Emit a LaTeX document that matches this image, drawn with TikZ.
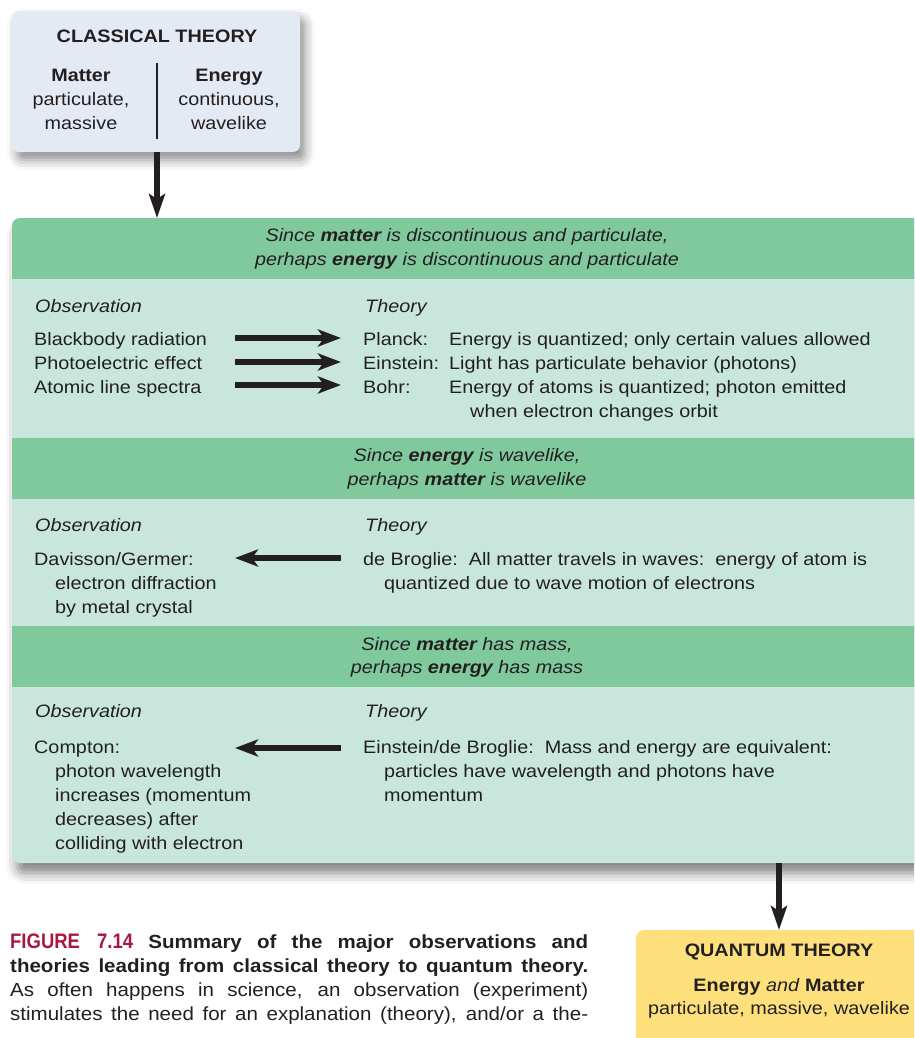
\documentclass[tikz,border=0pt]{standalone}
\usepackage{fontspec}
\setmainfont{Liberation Sans}[FakeStretch=1.1]
\newfontfamily\capfont{Liberation Sans}[FakeStretch=1.08]
\newfontfamily\condfont{Liberation Sans}[FakeStretch=0.88]
\usetikzlibrary{arrows.meta,shadows.blur}
\definecolor{ink}{HTML}{231F20}
\definecolor{topfill}{HTML}{E3EAF4}
\definecolor{hdrgreen}{HTML}{80C99C}
\definecolor{lightgreen}{HTML}{C9E6DC}
\definecolor{qyellow}{HTML}{FDE07C}
\definecolor{figred}{HTML}{A8173F}
\newcommand\fs{\fontsize{18}{24}\selectfont}
\begin{document}
\begin{tikzpicture}[x=1pt,y=-1pt,
  tx/.style={anchor=base west,inner sep=0pt,font=\fs,text=ink},
  tc/.style={anchor=base,inner sep=0pt,font=\fs,text=ink},
  hd/.style={anchor=base,inner sep=0pt,font=\fs\itshape,text=ink},
  captext/.style={anchor=base west,inner sep=0pt,font=\capfont\fontsize{19}{24}\selectfont,text=ink},
  fatarrow/.style={draw=ink,line width=6.5pt,-{Stealth[length=23pt,width=17pt,inset=6pt]}},
  downarrow/.style={draw=ink,line width=6.5pt,-{Stealth[length=24pt,width=16pt,inset=5pt]}}
]
\useasboundingbox (0,0) rectangle (914,1038);
\clip (0,0) rectangle (914,1038);

% ---------- classical theory box ----------
\fill[topfill,rounded corners=7pt,
  blur shadow={shadow xshift=5pt,shadow yshift=-8pt,shadow blur radius=10pt,shadow opacity=45}]
  (12,11) rectangle (300,152);
\node[tc,font=\fs\bfseries] (classical) at (157,43) {CLASSICAL THEORY};
\draw[ink,line width=2pt] (157,63) -- (157,139);
\node[tc,font=\fs\bfseries] (matter) at (81,82) {Matter};
\node[tc] (matter2) at (81,106) {particulate,};
\node[tc] (matter3) at (81,130) {massive};
\node[tc,font=\fs\bfseries] (energy) at (229,82) {Energy};
\node[tc] (energy2) at (229,106) {continuous,};
\node[tc] (energy3) at (229,130) {wavelike};
\coordinate (topout) at (157,152);

% ---------- main panel ----------
\fill[lightgreen,rounded corners=8pt,
  blur shadow={shadow xshift=5pt,shadow yshift=-10pt,shadow blur radius=11pt,shadow opacity=50}]
  (12,218) rectangle (950,863);
\begin{scope}
  \clip[rounded corners=8pt] (12,218) rectangle (950,863);
  \fill[hdrgreen] (12,218) rectangle (950,279);
  \fill[hdrgreen] (12,438) rectangle (950,499);
  \fill[hdrgreen] (12,626) rectangle (950,687);
\end{scope}
\coordinate (panelin) at (157,218);
\coordinate (panelout) at (779,863);

% header 1
\node[hd] (h1a) at (467,241) {Since \textbf{matter} is discontinuous and particulate,};
\node[hd] (h1b) at (467,265) {perhaps \textbf{energy} is discontinuous and particulate};
% section 1
\node[tx,font=\fs\itshape] (obs1) at (35,312) {Observation};
\node[tx,font=\fs\itshape] (th1) at (365,312) {Theory};
\node[tx] (o1a) at (34,345) {Blackbody radiation};
\node[tx] (o1b) at (34,369) {Photoelectric effect};
\node[tx] (o1c) at (34,393) {Atomic line spectra};
\node[tx] (t1a) at (363,345) {Planck:};
\node[tx] (t1at) at (449,345) {Energy is quantized; only certain values allowed};
\node[tx] (t1b) at (363,369) {Einstein:};
\node[tx] (t1bt) at (449,369) {Light has particulate behavior (photons)};
\node[tx] (t1c) at (363,393) {Bohr:};
\node[tx] (t1ct) at (449,393) {Energy of atoms is quantized; photon emitted};
\node[tx] (t1ct2) at (470,417) {when electron changes orbit};
\coordinate (a1s) at (235,338); \coordinate (a1e) at (341,338);
\coordinate (a2s) at (235,362); \coordinate (a2e) at (341,362);
\coordinate (a3s) at (235,385); \coordinate (a3e) at (341,385);
\draw[fatarrow] (a1s) -- (a1e);
\draw[fatarrow] (a2s) -- (a2e);
\draw[fatarrow] (a3s) -- (a3e);

% header 2
\node[hd] (h2a) at (467,461) {Since \textbf{energy} is wavelike,};
\node[hd] (h2b) at (467,485) {perhaps \textbf{matter} is wavelike};
% section 2
\node[tx,font=\fs\itshape] (obs2) at (35,531) {Observation};
\node[tx,font=\fs\itshape] (th2) at (365,531) {Theory};
\node[tx] (o2a) at (34,565) {Davisson/Germer:};
\node[tx] (o2b) at (55,589) {electron diffraction};
\node[tx] (o2c) at (55,613) {by metal crystal};
\node[tx] (t2a) at (363,565) {de Broglie:\ \ All matter travels in waves:\ \ energy of atom is};
\node[tx] (t2b) at (384,589) {quantized due to wave motion of electrons};
\coordinate (b1s) at (341,558); \coordinate (b1e) at (235,558);
\draw[fatarrow] (b1s) -- (b1e);

% header 3
\node[hd] (h3a) at (467,650) {Since \textbf{matter} has mass,};
\node[hd] (h3b) at (467,673) {perhaps \textbf{energy} has mass};
% section 3
\node[tx,font=\fs\itshape] (obs3) at (35,717) {Observation};
\node[tx,font=\fs\itshape] (th3) at (365,717) {Theory};
\node[tx] (o3a) at (34,753) {Compton:};
\node[tx] (o3b) at (55,777) {photon wavelength};
\node[tx] (o3c) at (55,801) {increases (momentum};
\node[tx] (o3d) at (55,825) {decreases) after};
\node[tx] (o3e) at (55,849) {colliding with electron};
\node[tx] (t3a) at (363,753) {Einstein/de Broglie:\ \ Mass and energy are equivalent:};
\node[tx] (t3b) at (384,777) {particles have wavelength and photons have};
\node[tx] (t3c) at (384,801) {momentum};
\coordinate (c1s) at (341,748); \coordinate (c1e) at (235,748);
\draw[fatarrow] (c1s) -- (c1e);

% ---------- quantum box ----------
\fill[qyellow,rounded corners=8pt] (636,930) rectangle (950,1060);
\coordinate (qin) at (779,930);
\node[tc,font=\fs\bfseries] (quantum) at (779,956) {QUANTUM THEORY};
\node[tc] (quantum2) at (779,991) {\textbf{Energy} \textit{and} \textbf{Matter}};
\node[tc] (quantum3) at (779,1014) {particulate, massive, wavelike};

% ---------- connectors ----------
\draw[downarrow] (topout) -- (panelin);
\draw[downarrow] (panelout) -- (qin);

% ---------- caption ----------
\node[captext] (cap1) at (10,948) {\makebox[578pt][s]{\textbf{{\condfont\fontsize{21}{24}\selectfont\color{figred}FIGURE\ \,7.14} Summary of the major observations and}}};
\node[captext] (cap2) at (10,972) {\makebox[578pt][s]{\textbf{theories leading from classical theory to quantum theory.}}};
\node[captext] (cap3) at (10,996) {\makebox[578pt][s]{As often happens in science, an observation (experiment)}};
\node[captext] (cap4) at (10,1020) {\makebox[578pt][s]{stimulates the need for an explanation (theory), and/or a the-}};
\end{tikzpicture}
\end{document}
